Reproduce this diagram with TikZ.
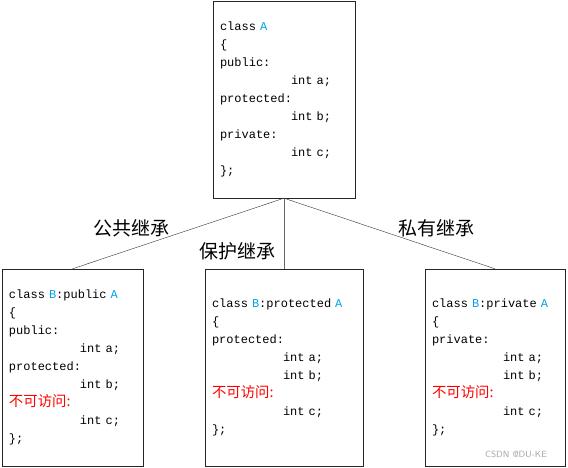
\documentclass[tikz,border=0pt]{standalone}
\usepackage{fontspec}
\setmonofont{Liberation Mono}
\newfontfamily\cjk{Noto Sans CJK SC}
\usepackage{tikz}
\usetikzlibrary{positioning}
\definecolor{clsblue}{RGB}{0,160,233}
\newcommand\cls[1]{\textcolor{clsblue}{#1}}
\newcommand\member[1]{\hspace*{71pt}#1}
\newcommand\noaccess{\textcolor{red}{\cjk\fontsize{14.4}{18}\selectfont 不可访问:}}

\begin{document}
\begin{tikzpicture}[x=1pt,y=-1pt,
  classbox/.style={draw=black!85,align=left,inner xsep=7pt,inner ysep=0pt,
    minimum height=197pt,font=\ttfamily\fontsize{12}{18}\selectfont},
  kind/.style={font=\cjk\fontsize{19}{20}\selectfont,inner sep=0pt}]
\useasboundingbox (0,0) rectangle (568,468);
% base class
\node[classbox,text width=128pt] (A) at (284,99.5) {class \cls{A}\\\{\\public:\\
  \member{int a;}\\protected:\\\member{int b;}\\private:\\\member{int c;}\\\};};
% derived classes
\node[classbox,text width=127pt] (pub) at (72.5,367.5) {class \cls{B}:public \cls{A}\\\{\\public:\\
  \member{int a;}\\protected:\\\member{int b;}\\\noaccess\\\member{int c;}\\\};};
\node[classbox,text width=144pt] (prot) at (284,367.5) {class \cls{B}:protected \cls{A}\\\{\\protected:\\
  \member{int a;}\\\member{int b;}\\\noaccess\\\member{int c;}\\\};};
\node[classbox,text width=126pt] (priv) at (495,367.5) {class \cls{B}:private \cls{A}\\\{\\private:\\
  \member{int a;}\\\member{int b;}\\\noaccess\\\member{int c;}\\\};};
\draw[black!80] (A.south) -- (pub.north);
\draw[black!60] (A.south) -- (prot.north);
\draw[black!80] (A.south) -- (priv.north);
\node[kind] (pubkind) at (131,228) {公共继承};
\node[kind] (protkind) at (237,251) {保护继承};
\node[kind] (privkind) at (436,228) {私有继承};
\node[font=\sffamily\fontsize{9}{10}\selectfont,text=black!35,inner sep=0pt] (mark) at (516,454) {CSDN @DU-KE};
\end{tikzpicture}
\end{document}
